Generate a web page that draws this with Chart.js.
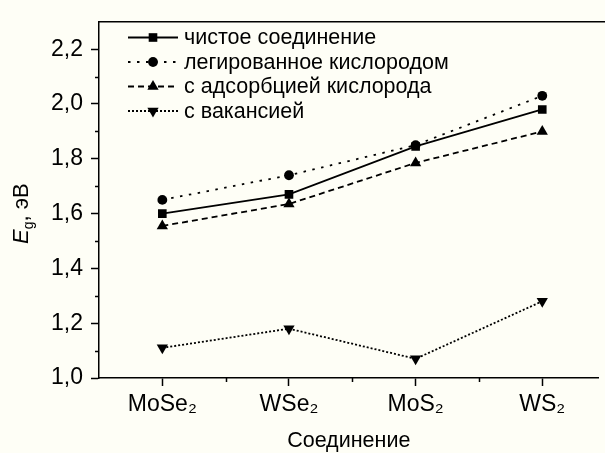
<!DOCTYPE html>
<html><head><meta charset="utf-8">
<script src="https://cdn.jsdelivr.net/npm/chart.js@4.4.1/dist/chart.umd.min.js"></script>
<style>html,body{margin:0;padding:0;background:#fefef6;}#c{display:block;}</style>
</head><body>
<canvas id="c" width="605" height="453"></canvas>
<script>
// ---- data ----
const categories = ['MoSe₂', 'WSe₂', 'MoS₂', 'WS₂'];
const pure      = [1.60, 1.67, 1.845, 1.98];
const doped     = [1.65, 1.74, 1.85, 2.03];
const adsorbed  = [1.555, 1.635, 1.785, 1.90];
const vacancy   = [1.11, 1.18, 1.07, 1.28];
const seriesNames = ['чистое соединение', 'легированное кислородом', 'с адсорбцией кислорода', 'с вакансией'];
const yTicks = [1.0, 1.2, 1.4, 1.6, 1.8, 2.0, 2.2];
const yMinor = [1.1, 1.3, 1.5, 1.7, 1.9, 2.1];
const xMinor = [0.5, 1.5, 2.5];
const xTitle = 'Соединение';

const FONT = "'Liberation Sans', Arial, sans-serif";
const BG = '#fefef6';

function toPts(arr){ return arr.map((v,i)=>({x:i, y:v})); }

const styles = [
  {pointStyle:'rect', radius:6.1, rot:0, dash:[]},
  {pointStyle:'circle', radius:4.9, rot:0, dash:[2.5,6.5]},
  {pointStyle:'triangle', radius:6.5, rot:0, dash:[6,4]},
  {pointStyle:'triangle', radius:6.5, rot:180, dash:[2,2]},
];
const values = [pure, doped, adsorbed, vacancy];

const datasets = values.map((vals,i)=>({
  label: seriesNames[i],
  data: toPts(vals),
  borderColor:'#000', backgroundColor:'#000',
  borderWidth:1.8, borderDash: styles[i].dash,
  pointStyle: styles[i].pointStyle, pointRadius: styles[i].radius,
  pointRotation: styles[i].rot, pointBorderWidth:0,
  pointBackgroundColor:'#000', tension:0, fill:false
}));

function drawMarker(ctx, style, r, rot, x, y){
  ctx.save();
  ctx.fillStyle='#000';
  ctx.beginPath();
  if(style==='rect'){ const s=Math.SQRT1_2*r; ctx.rect(x-s,y-s,2*s,2*s); }
  else if(style==='circle'){ ctx.arc(x,y,r,0,Math.PI*2); }
  else {
    let rad = rot*Math.PI/180;
    ctx.moveTo(x+Math.sin(rad)*r, y-Math.cos(rad)*r);
    rad += 2*Math.PI/3; ctx.lineTo(x+Math.sin(rad)*r, y-Math.cos(rad)*r);
    rad += 2*Math.PI/3; ctx.lineTo(x+Math.sin(rad)*r, y-Math.cos(rad)*r);
    ctx.closePath();
  }
  ctx.fill();
  ctx.restore();
}

const decor = {
  id:'decor',
  beforeDraw(chart){
    const ctx=chart.ctx; ctx.save(); ctx.fillStyle=BG; ctx.fillRect(0,0,chart.width,chart.height); ctx.restore();
  },
  afterDraw(chart){
    const ctx=chart.ctx, a=chart.chartArea, xs=chart.scales.x, ys=chart.scales.y;
    ctx.save();
    ctx.strokeStyle='#000'; ctx.lineWidth=1.5;
    // top frame
    ctx.beginPath(); ctx.moveTo(a.left, a.top); ctx.lineTo(chart.width, a.top); ctx.stroke();
    // minor ticks
    ctx.beginPath();
    yMinor.forEach(v=>{ const y=Math.round(ys.getPixelForValue(v))+0.5; ctx.moveTo(a.left-4,y); ctx.lineTo(a.left,y); });
    xMinor.forEach(v=>{ const x=Math.round(xs.getPixelForValue(v))+0.5; ctx.moveTo(x,a.bottom); ctx.lineTo(x,a.bottom+4); });
    ctx.stroke();
    // y title: E_g, эВ (rotated)
    ctx.save();
    ctx.translate(28, 244);
    ctx.rotate(-Math.PI/2);
    ctx.fillStyle='#000'; ctx.textBaseline='alphabetic'; ctx.textAlign='left';
    let x=0;
    ctx.font='italic 22px '+FONT; ctx.fillText('E', x, 0); x+=ctx.measureText('E').width;
    ctx.font='14px '+FONT; ctx.fillText('g', x, 5); x+=ctx.measureText('g').width;
    ctx.font='22px '+FONT; ctx.fillText(', эВ', x, 0);
    ctx.restore();
    // x title
    ctx.fillStyle='#000'; ctx.font='21.5px '+FONT; ctx.textAlign='center'; ctx.textBaseline='alphabetic';
    ctx.fillText(xTitle, (a.left+a.right)/2, 447);
    // legend
    const rows=[37.5, 62, 86.5, 111];
    ctx.font='21.5px '+FONT; ctx.textAlign='left'; ctx.textBaseline='middle';
    chart.data.datasets.forEach((ds,i)=>{
      const y=rows[i];
      ctx.save();
      ctx.strokeStyle='#000'; ctx.lineWidth=ds.borderWidth; ctx.setLineDash(ds.borderDash);
      ctx.beginPath(); ctx.moveTo(128,y); ctx.lineTo(178,y); ctx.stroke();
      ctx.restore();
      drawMarker(ctx, ds.pointStyle, ds.pointRadius, ds.pointRotation, 153, y);
      ctx.fillStyle='#000';
      ctx.fillText(ds.label, 184, y+1);
    });
    ctx.restore();
  }
};

new Chart(document.getElementById('c'), {
  type:'line',
  data:{datasets},
  plugins:[decor],
  options:{
    responsive:false, animation:false, devicePixelRatio:1,
    layout:{padding:{left:0, top:15, right:0, bottom:0}},
    plugins:{legend:{display:false}, tooltip:{enabled:false}},
    scales:{
      x:{
        type:'linear', min:-0.5, max:3.444,
        afterBuildTicks(s){ s.ticks = categories.map((c,i)=>({value:i})); },
        afterFit(s){ s.height = 75; },
        ticks:{ callback:(v)=>categories[v] ?? '', color:'#000', font:{family:FONT, size:23}, padding:5, maxRotation:0, autoSkip:false },
        grid:{ display:true, drawOnChartArea:false, drawTicks:true, tickLength:8, color:'#000', tickWidth:1.5 },
        border:{ display:true, color:'#000', width:1.5 }
      },
      y:{
        type:'linear', min:1.0, max:2.3,
        afterBuildTicks(s){ s.ticks = yTicks.map(v=>({value:v})); },
        afterFit(s){ s.width = 99; },
        ticks:{ callback:(v)=>v.toFixed(1).replace('.',','), color:'#000', font:{family:FONT, size:23}, padding:8, autoSkip:false },
        grid:{ display:true, drawOnChartArea:false, drawTicks:true, tickLength:8, color:'#000', tickWidth:1.5 },
        border:{ display:true, color:'#000', width:1.5 }
      }
    }
  }
});
</script>
</body></html>
